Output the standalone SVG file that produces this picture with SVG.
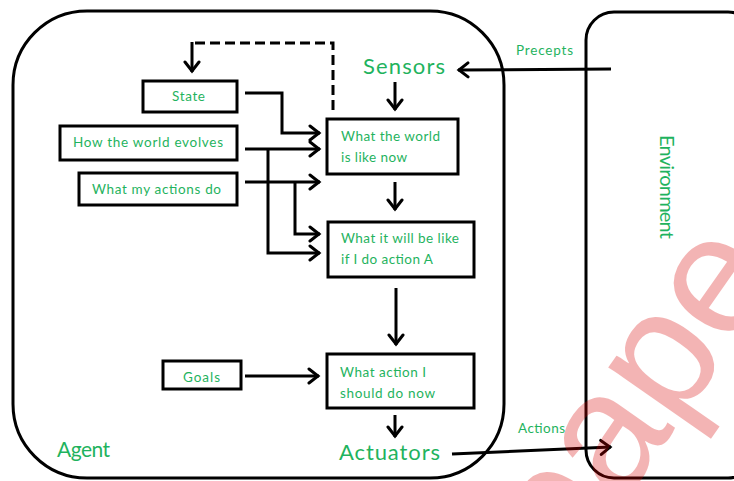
<svg xmlns="http://www.w3.org/2000/svg" width="734" height="481" viewBox="0 0 734 481">
  <style>
    .frame { fill: none; stroke: #000; stroke-width: 3; }
    .box { fill: #fff; stroke: #000; stroke-width: 3; }
    .lbl { font-family: Lato, "Liberation Sans", sans-serif; fill: #1fb35e; }
    .sm { font-size: 13.5px; }
    .lg { font-size: 22px; }
    .wire { fill: none; stroke: #000; stroke-width: 3; marker-end: url(#chev); }
    .dash { fill: none; stroke: #000; stroke-width: 3; stroke-dasharray: 10 5; }
    .mark { font-family: "Liberation Sans", Arial, sans-serif; font-size: 170px; fill: #d90000; opacity: 0.29; }
  </style>
  <defs>
    <marker id="chev" viewBox="0 0 14 18" refX="12" refY="9" markerWidth="14" markerHeight="18" markerUnits="userSpaceOnUse" orient="auto">
      <path d="M2,2 L11,9 L2,16" fill="none" stroke="#000" stroke-width="3" stroke-linecap="round"/>
    </marker>
  </defs>
  <rect width="734" height="481" fill="#fff"/>

  <!-- agent and environment outlines -->
  <g id="agent">
    <rect class="frame" x="13" y="11" width="491" height="467" rx="74" ry="74"/>
    <text class="lbl" x="57" y="457" font-size="21" textLength="53">Agent</text>
  </g>
  <g id="environment">
    <rect class="frame" x="586" y="12" width="170" height="466" rx="28" ry="28"/>
    <text class="lbl" transform="translate(660,135) rotate(90)" font-size="20" textLength="104">Environment</text>
  </g>

  <!-- connectors -->
  <g id="connectors">
    <path class="dash" d="M333,110 V43 H192"/>
    <path class="wire" d="M192,42 V72"/>
    <path class="wire" d="M245,93 H282 V133 H320"/>
    <path class="wire" d="M245,149 H320"/>
    <path class="wire" d="M268,149 V253 H320"/>
    <path class="wire" d="M245,182 H320"/>
    <path class="wire" d="M295,182 V234 H320"/>
    <path class="wire" d="M395,82 V110"/>
    <path class="wire" d="M395,182 V210"/>
    <path class="wire" d="M396,288 V345"/>
    <path class="wire" d="M245,376 H319"/>
    <path class="wire" d="M395,415 V437"/>
    <path class="wire" d="M452,454 L611,447"/>
    <path class="wire" d="M611,69 L458,70"/>
    <text class="lbl sm" x="516" y="55" textLength="57">Precepts</text>
    <text class="lbl sm" x="518" y="433" textLength="47">Actions</text>
  </g>

  <g id="sensors">
    <text class="lbl lg" x="363" y="74" textLength="82">Sensors</text>
  </g>
  <g id="actuators">
    <text class="lbl lg" x="339" y="460" textLength="101">Actuators</text>
  </g>

  <g id="state">
    <rect class="box" x="143" y="81" width="94" height="31"/>
    <text class="lbl sm" x="172" y="101" textLength="33">State</text>
  </g>
  <g id="world-evolves">
    <rect class="box" x="60" y="126" width="177" height="34"/>
    <text class="lbl sm" x="73" y="147" textLength="150">How the world evolves</text>
  </g>
  <g id="my-actions">
    <rect class="box" x="79" y="173" width="158" height="32"/>
    <text class="lbl sm" x="92" y="194" textLength="129">What my actions do</text>
  </g>
  <g id="goals">
    <rect class="box" x="163" y="361" width="78" height="28"/>
    <text class="lbl sm" x="183" y="382" textLength="37">Goals</text>
  </g>
  <g id="world-now">
    <rect class="box" x="327" y="119" width="131" height="55"/>
    <text class="lbl sm" x="341" y="141" textLength="99">What the world</text>
    <text class="lbl sm" x="341" y="162" textLength="66">is like now</text>
  </g>
  <g id="world-after">
    <rect class="box" x="328" y="222" width="146" height="55"/>
    <text class="lbl sm" x="341" y="243" textLength="118">What it will be like</text>
    <text class="lbl sm" x="341" y="264" textLength="92">if I do action A</text>
  </g>
  <g id="next-action">
    <rect class="box" x="327" y="354" width="147" height="54"/>
    <text class="lbl sm" x="340" y="377" textLength="86">What action I</text>
    <text class="lbl sm" x="340" y="398" textLength="95">should do now</text>
  </g>

  <!-- watermark -->
  <g id="watermark">
    <text class="mark" transform="translate(567,583) rotate(-55)">pape</text>
  </g>
</svg>
